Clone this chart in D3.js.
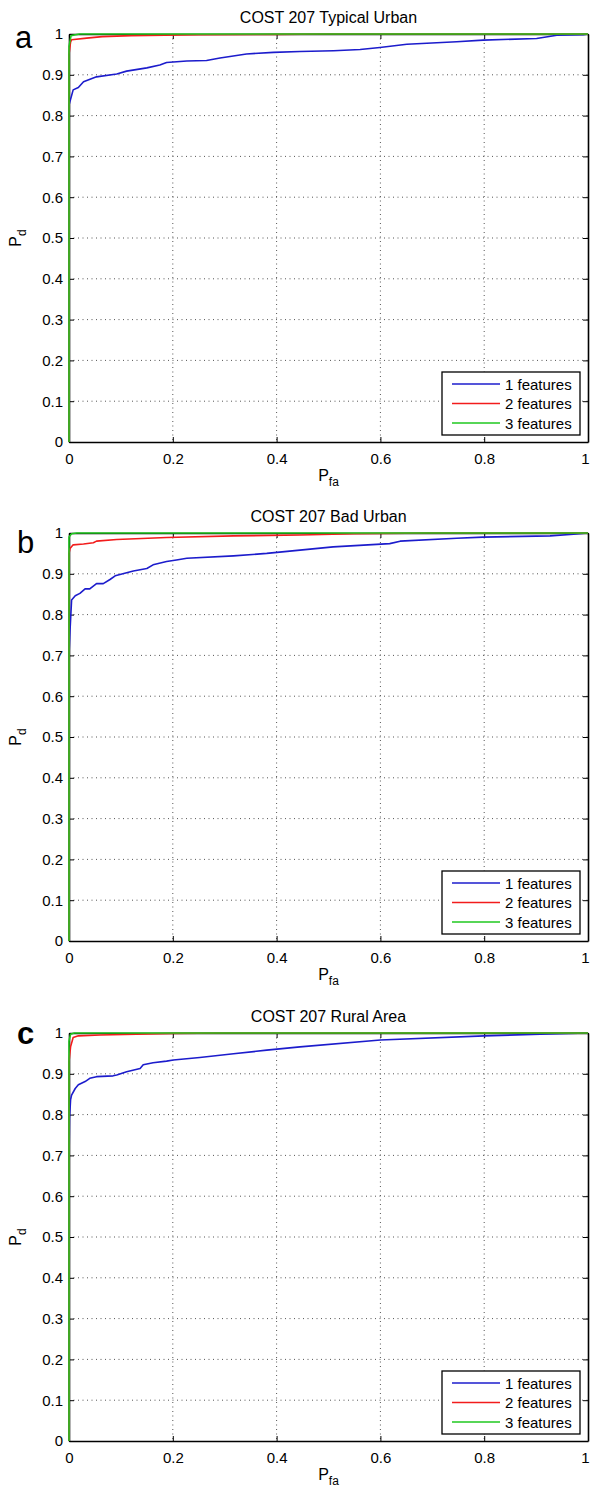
<!DOCTYPE html>
<html>
<head>
<meta charset="utf-8">
<script src="https://cdn.jsdelivr.net/npm/d3@7"></script>
<style>
  body { margin: 0; background: #fff; }
  text { font-family: "Liberation Sans", Arial, sans-serif; fill: #000; }
</style>
</head>
<body>
<svg width="591" height="1489"></svg>
<script>
// values, [Pfa, Pd]
var titles = ["COST 207 Typical Urban", "COST 207 Bad Urban", "COST 207 Rural Area"];
var letters = ["a", "b", "c"];
var seriesNames = ["1 features", "2 features", "3 features"];
var seriesColors = ["#1c1ccc", "#f21c1c", "#1fc81f"];
var xTicks = [0, 0.2, 0.4, 0.6, 0.8, 1];
var yTicks = [0, 0.1, 0.2, 0.3, 0.4, 0.5, 0.6, 0.7, 0.8, 0.9, 1];

var urbanF1 = [[0,0],[0,0.826],[0.008,0.863],[0.018,0.869],[0.028,0.883],[0.053,0.895],[0.092,0.902],
  [0.111,0.909],[0.15,0.917],[0.175,0.924],[0.188,0.93],[0.227,0.934],[0.265,0.935],[0.291,0.941],
  [0.342,0.951],[0.394,0.955],[0.445,0.957],[0.51,0.959],[0.561,0.962],[0.599,0.967],[0.651,0.975],
  [0.747,0.981],[0.798,0.985],[0.901,0.989],[0.94,0.997],[0.991,0.998],[1,1]];
var urbanF2 = [[0,0],[0,0.95],[0.003,0.98],[0.005,0.986],[0.034,0.99],[0.064,0.9935],[0.12,0.996],
  [0.25,0.998],[0.4,0.999],[0.5,1],[1,1]];
var urbanF3 = [[0,0],[0,0.97],[0.004,0.996],[0.02,1],[1,1]];

var badF1 = [[0,0],[0,0.70],[0.002,0.762],[0.005,0.836],[0.012,0.846],[0.021,0.852],[0.031,0.863],
  [0.04,0.863],[0.053,0.876],[0.066,0.876],[0.079,0.886],[0.089,0.895],[0.124,0.907],[0.15,0.913],
  [0.162,0.922],[0.188,0.93],[0.207,0.934],[0.227,0.938],[0.317,0.944],[0.381,0.95],[0.445,0.958],
  [0.509,0.966],[0.618,0.974],[0.638,0.98],[0.747,0.987],[0.798,0.99],[0.927,0.993],[0.972,0.997],[1,1]];
var badF2 = [[0,0],[0,0.95],[0.002,0.962],[0.008,0.971],[0.028,0.973],[0.047,0.976],[0.053,0.98],
  [0.092,0.984],[0.188,0.989],[0.317,0.993],[0.445,0.995],[0.55,0.998],[0.7,1],[1,1]];
var badF3 = [[0,0],[0,0.99],[0.005,0.998],[0.015,1],[1,1]];

var ruralF1 = [[0,0],[0,0.68],[0.001,0.79],[0.003,0.836],[0.005,0.848],[0.012,0.864],[0.018,0.873],
  [0.031,0.881],[0.04,0.889],[0.053,0.893],[0.085,0.895],[0.092,0.897],[0.111,0.905],[0.137,0.913],
  [0.143,0.922],[0.162,0.927],[0.188,0.931],[0.201,0.934],[0.252,0.94],[0.317,0.949],[0.381,0.958],
  [0.445,0.966],[0.6,0.983],[0.8,0.993],[0.908,0.997],[1,1]];
var ruralF2 = [[0,0],[0,0.93],[0.003,0.966],[0.008,0.989],[0.018,0.993],[0.06,0.995],[0.2,0.999],[0.3,1],[1,1]];
var ruralF3 = [[0,0],[0,0.98],[0.003,0.997],[0.01,1],[1,1]];

var panels = [[urbanF1, urbanF2, urbanF3], [badF1, badF2, badF3], [ruralF1, ruralF2, ruralF3]];

var svg = d3.select("svg"),
  left = 69,
  width = 519,
  height = 408,
  tops = [34, 533, 1033],
  letterPos = [[15, 48, "normal"], [17, 553, "normal"], [17, 1044, "bold"]];

var xScale = d3.scaleLinear().domain([0, 1]).range([0, width]),
  yScale = d3.scaleLinear().domain([0, 1]).range([height, 0]);

var fmt = function (d) { return d === 0 || d === 1 ? String(d) : d3.format(".1f")(d); };

var line = d3.line()
  .x(function (d) { return xScale(d[0]); })
  .y(function (d) { return yScale(d[1]); });

svg.append("rect").attr("width", 591).attr("height", 1489).attr("fill", "#fff");

panels.forEach(function (data, p) {
  var g = svg.append("g").attr("transform", "translate(" + left + "," + tops[p] + ")");

  // dotted grid
  g.selectAll(".gx")
    .data(xTicks.slice(1, -1))
    .enter()
    .append("line")
    .attr("x1", xScale).attr("x2", xScale)
    .attr("y1", 0).attr("y2", height)
    .attr("stroke", "#555").attr("stroke-width", 1)
    .attr("stroke-dasharray", "1,3.5");
  g.selectAll(".gy")
    .data(yTicks.slice(1, -1))
    .enter()
    .append("line")
    .attr("y1", yScale).attr("y2", yScale)
    .attr("x1", 0).attr("x2", width)
    .attr("stroke", "#555").attr("stroke-width", 1)
    .attr("stroke-dasharray", "1,3.5");

  // axes, ticks pointing inside like matlab
  var bottom = g.append("g")
    .attr("transform", "translate(0," + height + ")")
    .call(d3.axisBottom(xScale).tickValues(xTicks).tickFormat(fmt).tickSizeInner(-5).tickSizeOuter(0).tickPadding(11));
  var leftAx = g.append("g")
    .call(d3.axisLeft(yScale).tickValues(yTicks).tickFormat(fmt).tickSizeInner(-5).tickSizeOuter(0).tickPadding(11));
  var topAx = g.append("g")
    .call(d3.axisTop(xScale).tickValues(xTicks).tickFormat("").tickSizeInner(-5).tickSizeOuter(0));
  var rightAx = g.append("g")
    .attr("transform", "translate(" + width + ",0)")
    .call(d3.axisRight(yScale).tickValues(yTicks).tickFormat("").tickSizeInner(-5).tickSizeOuter(0));

  [bottom, leftAx, topAx, rightAx].forEach(function (a) {
    a.select(".domain").attr("stroke", "#000").attr("stroke-width", 1.6);
    a.selectAll(".tick line").attr("stroke", "#000").attr("stroke-width", 1);
    a.selectAll("text").attr("font-size", "15px").attr("font-family", "Liberation Sans, Arial, sans-serif").attr("fill", "#000");
  });
  leftAx.selectAll(".tick text").attr("x", -6);
  // last x label sits at the page edge, nudge it in
  bottom.selectAll(".tick text").filter(function (d) { return d === 1; }).attr("dx", -3);

  // curves
  data.forEach(function (s, i) {
    g.append("path")
      .datum(s)
      .attr("d", line)
      .attr("fill", "none")
      .attr("stroke", seriesColors[i])
      .attr("stroke-width", 1.6)
      .attr("stroke-linejoin", "round");
  });

  // title
  g.append("text")
    .attr("x", width / 2)
    .attr("y", -11)
    .attr("text-anchor", "middle")
    .attr("font-size", "16px")
    .text(titles[p]);

  // x label
  var xl = g.append("text")
    .attr("x", width / 2)
    .attr("y", height + 39)
    .attr("text-anchor", "middle")
    .attr("font-size", "16px");
  xl.append("tspan").text("P");
  xl.append("tspan").attr("font-size", "12px").attr("dy", 5).text("fa");

  // y label
  var yl = g.append("text")
    .attr("transform", "translate(-48," + (height / 2) + ") rotate(-90)")
    .attr("text-anchor", "middle")
    .attr("font-size", "16px");
  yl.append("tspan").text("P");
  yl.append("tspan").attr("font-size", "12px").attr("dy", 5).text("d");

  // legend
  var lg = g.append("g").attr("transform", "translate(" + (width - 146) + "," + (height - 70) + ")");
  lg.append("rect")
    .attr("width", 138).attr("height", 63)
    .attr("fill", "#fff").attr("stroke", "#000").attr("stroke-width", 1.3);
  seriesNames.forEach(function (n, i) {
    lg.append("line")
      .attr("x1", 10).attr("x2", 58)
      .attr("y1", 12 + i * 19.5).attr("y2", 12 + i * 19.5)
      .attr("stroke", seriesColors[i]).attr("stroke-width", 1.6);
    lg.append("text")
      .attr("x", 63)
      .attr("y", 17.5 + i * 19.5)
      .attr("font-size", "15px")
      .text(n);
  });

  // panel letter
  svg.append("text")
    .attr("x", letterPos[p][0])
    .attr("y", letterPos[p][1])
    .attr("font-size", "31px")
    .attr("font-weight", letterPos[p][2])
    .text(letters[p]);
});
</script>
</body>
</html>
